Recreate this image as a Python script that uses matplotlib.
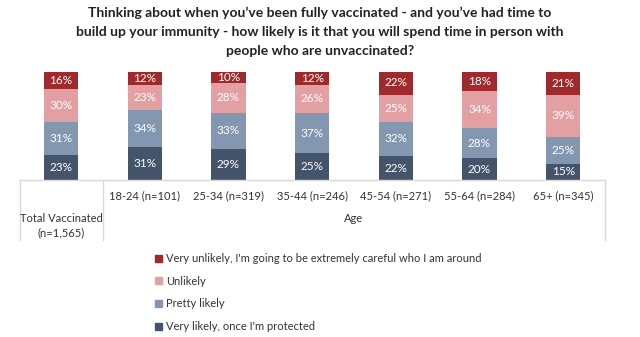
import matplotlib
matplotlib.use("Agg")
import numpy as np
import matplotlib.pyplot as plt
from matplotlib.patches import Patch

plt.rcParams["font.family"] = ["Lato", "DejaVu Sans"]

categories = ["Total Vaccinated\n(n=1,565)", "18-24 (n=101)", "25-34 (n=319)", "35-44 (n=246)",
              "45-54 (n=271)", "55-64 (n=284)", "65+ (n=345)"]
very_likely = [23, 31, 29, 25, 22, 20, 15]
pretty_likely = [31, 34, 33, 37, 32, 28, 25]
unlikely = [30, 23, 28, 26, 25, 34, 39]
very_unlikely = [16, 12, 10, 12, 22, 18, 21]

series = [
    ("Very likely, once I'm protected", very_likely, "#44546a"),
    ("Pretty likely", pretty_likely, "#8497b0"),
    ("Unlikely", unlikely, "#e3a0a2"),
    ("Very unlikely, I'm going to be extremely careful who I am around", very_unlikely, "#9e2a2b"),
]

W, H = 640, 337
fig = plt.figure(figsize=(W / 100, H / 100), dpi=100)
# axes spans x 20..605 px, y baseline 180 px to 100% at 72 px
ax = fig.add_axes([20 / W, 1 - 180 / H, 585 / W, 108 / H])
ax.set_xlim(-0.49, 6.5)
ax.set_ylim(0, 100)
ax.axis("off")

x = np.arange(len(categories))
bottom = np.zeros(len(categories))
for name, vals, color in series:
    vals = np.array(vals, dtype=float)
    ax.bar(x, vals, width=0.41, bottom=bottom, color=color, label=name)
    for xi, b, v in zip(x, bottom, vals):
        ax.text(xi, b + v / 2, f"{int(v)}%", ha="center", va="center",
                color="white", fontsize=8.5)
    bottom += vals

# table-like axis lines
line_kw = dict(color="#d9d9d9", lw=1, clip_on=False)
ax.plot([-0.49, 6.5], [0, 0], **line_kw)
for xv in [-0.49, 0.5, 6.5]:
    ax.plot([xv, xv], [0, -56], **line_kw)

ax.text(0, -42.5, categories[0], ha="center", va="center", fontsize=8,
        color="#333333", linespacing=1.35)
for xi, lab in zip(x[1:], categories[1:]):
    ax.text(xi, -14.8, lab, ha="center", va="center", fontsize=8, color="#333333")
ax.text(3.49, -36, "Age", ha="center", va="center", fontsize=8, color="#333333")

fig.text(0.5, 1 - 32 / H,
         "Thinking about when you\u2019ve been fully vaccinated - and you\u2019ve had time to\n"
         "build up your immunity - how likely is it that you will spend time in person with\n"
         "people who are unvaccinated?",
         ha="center", va="center", fontsize=10, fontweight="bold", color="#222222",
         linespacing=1.7)

handles = [Patch(color=c, label=n) for n, v, c in series[::-1]]
fig.legend(handles=handles, loc="upper left", bbox_to_anchor=(155 / W, 1 - 253 / H),
           frameon=False, fontsize=8, handlelength=0.6, handleheight=0.6,
           handletextpad=0.4, labelspacing=1.05, borderaxespad=0, borderpad=0,
           labelcolor="#333333")

fig.savefig("out.png", dpi=100)
